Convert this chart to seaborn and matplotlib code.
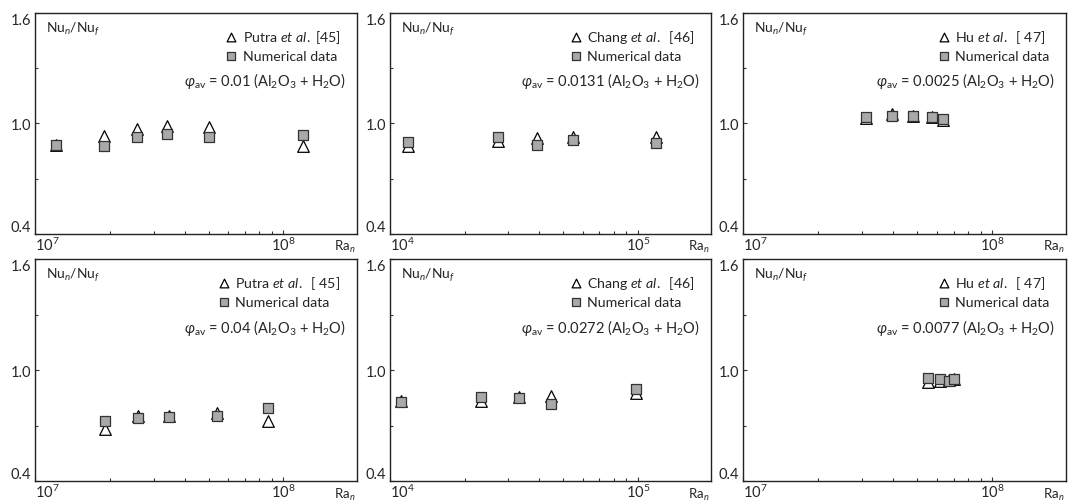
import numpy as np
import pandas as pd
import seaborn as sns
import matplotlib.pyplot as plt
from matplotlib.ticker import FixedLocator, NullFormatter, LogLocator

# dados (Nu_n/Nu_f vs Ra_n)
# linha de cima
ra_putra_a = [1.22e7, 1.90e7, 2.58e7, 3.39e7, 5.02e7, 1.20e8]
exp_putra_a = [0.885, 0.934, 0.970, 0.985, 0.979, 0.876]
num_putra_a = [0.883, 0.876, 0.928, 0.943, 0.928, 0.938]

ra_chang_a = [1.18e4, 2.73e4, 3.90e4, 5.47e4, 1.18e5]
exp_chang_a = [0.880, 0.907, 0.919, 0.925, 0.925]
num_chang_a = [0.901, 0.925, 0.885, 0.912, 0.894]

ra_hu_a = [3.11e7, 3.95e7, 4.79e7, 5.73e7, 6.35e7]
exp_hu_a = [1.030, 1.050, 1.042, 1.037, 1.020]
num_hu_a = [1.033, 1.039, 1.042, 1.033, 1.024]

# linha de baixo
ra_putra_b = [1.91e7, 2.59e7, 3.47e7, 5.39e7, 8.65e7]
exp_putra_b = [0.682, 0.749, 0.754, 0.767, 0.727]
num_putra_b = [0.722, 0.742, 0.745, 0.754, 0.794]

ra_chang_b = [1.11e4, 2.32e4, 3.32e4, 4.48e4, 9.84e4]
exp_chang_b = [0.835, 0.835, 0.857, 0.862, 0.875]
num_chang_b = [0.826, 0.853, 0.848, 0.815, 0.898]

ra_hu_b = [5.50e7, 6.15e7, 6.69e7, 7.00e7]
exp_hu_b = [0.934, 0.943, 0.947, 0.950]
num_hu_b = [0.956, 0.952, 0.943, 0.952]

labels_exp = ["Putra $\\it{et\\ al.}$ [45]", "Chang $\\it{et\\ al.}$  [46]", "Hu $\\it{et\\ al.}$  [ 47]",
              "Putra $\\it{et\\ al.}$  [ 45]", "Chang $\\it{et\\ al.}$  [46]", "Hu $\\it{et\\ al.}$  [ 47]"]
phis = ["0.01", "0.0131", "0.0025", "0.04", "0.0272", "0.0077"]
decades = [7, 4, 7, 7, 4, 7]

ras = [ra_putra_a, ra_chang_a, ra_hu_a, ra_putra_b, ra_chang_b, ra_hu_b]
exps = [exp_putra_a, exp_chang_a, exp_hu_a, exp_putra_b, exp_chang_b, exp_hu_b]
nums = [num_putra_a, num_chang_a, num_hu_a, num_putra_b, num_chang_b, num_hu_b]

sns.set_style("ticks")
plt.rcParams['font.family'] = ['Lato', 'DejaVu Sans']
plt.rcParams['mathtext.fontset'] = 'custom'
plt.rcParams['mathtext.rm'] = 'Lato'
plt.rcParams['mathtext.it'] = 'Lato:italic'
plt.rcParams['mathtext.bf'] = 'Lato:bold'

fig = plt.figure(figsize=(10.69, 5.02), dpi=100)

lefts = [0.0327, 0.365, 0.695]
widths = [0.301, 0.300, 0.302]
bottoms = [0.532, 0.0398]
heights = [0.440, 0.442]

for i in range(6):
    row, col = divmod(i, 3)
    ax = fig.add_axes([lefts[col], bottoms[row], widths[col], heights[row]])
    df = pd.DataFrame({'Ra': ras[i], 'exp': exps[i], 'num': nums[i]})

    sns.scatterplot(data=df, x='Ra', y='exp', marker='^', s=70, color='white',
                    edgecolor='black', linewidth=0.9, ax=ax, label=labels_exp[i], zorder=3)
    sns.scatterplot(data=df, x='Ra', y='num', marker='s', s=62, color='#a9a9a9',
                    edgecolor='#333333', linewidth=0.9, ax=ax, label='Numerical data', zorder=4)

    d = decades[i]
    ax.set_xscale('log')
    ax.set_xlim(10 ** d, 10 ** (d + 1.295))
    ax.set_ylim(0.4, 1.6)
    ax.set_xticks([10 ** d, 10 ** (d + 1)])
    ax.set_xticklabels(['$10^{%d}$' % d, '$10^{%d}$' % (d + 1)])
    ax.xaxis.set_minor_locator(LogLocator(base=10, subs=np.arange(2, 10)))
    ax.xaxis.set_minor_formatter(NullFormatter())
    ax.set_yticks([0.4, 1.0, 1.6])
    ax.set_yticklabels(['0.4', '1.0', '1.6'])
    ax.yaxis.set_minor_locator(FixedLocator([0.7, 1.3]))
    ax.tick_params(which='both', direction='in', labelsize=10.5, width=0.8, color='#333333')
    ax.tick_params(which='major', length=3)
    ax.tick_params(which='minor', length=2.5)
    ax.tick_params(axis='x', pad=1)
    ax.tick_params(axis='y', pad=3)
    xl = ax.get_xticklabels()
    xl[0].set_horizontalalignment('left')
    yl = ax.get_yticklabels()
    yl[0].set_verticalalignment('bottom')
    yl[2].set_verticalalignment('top')
    for sp in ax.spines.values():
        sp.set_linewidth(1.0)
        sp.set_color('#222222')
        sp.set_visible(True)
    ax.set_xlabel('')
    ax.set_ylabel('')

    ax.text(0.035, 0.93, 'Nu$_n$/Nu$_f$', transform=ax.transAxes, fontsize=10, va='center', ha='left')
    ax.text(0.995, -0.02, 'Ra$_n$', transform=ax.transAxes, fontsize=9.5, va='top', ha='right')
    ax.text(0.965, 0.695, '$\\varphi_{\\rm av}$ = ' + phis[i] + ' (Al$_2$O$_3$ + H$_2$O)',
            transform=ax.transAxes, fontsize=10.5, va='center', ha='right')

    leg = ax.legend(loc='upper right', bbox_to_anchor=(0.985, 0.985), frameon=False, fontsize=10.2,
                    handlelength=0.9, handletextpad=0.35, labelspacing=0.35, markerscale=0.75,
                    borderpad=0.3)

fig.savefig('out.png', dpi=100)
